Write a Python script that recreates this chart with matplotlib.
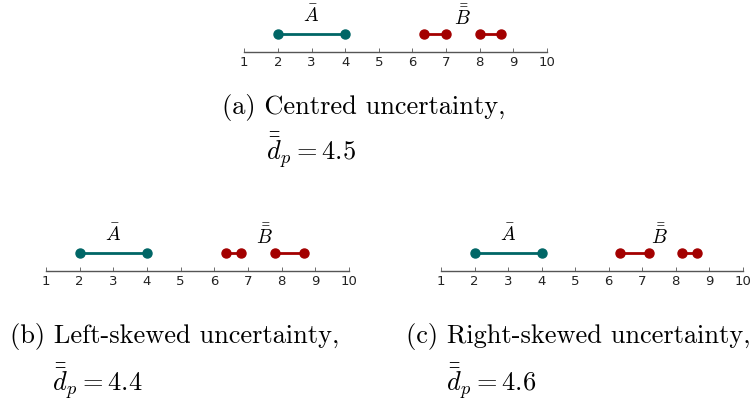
import matplotlib
matplotlib.use("Agg")
import matplotlib.pyplot as plt

plt.rcParams['mathtext.fontset'] = 'cm'

W, H = 751, 406
DPI = 100

ticks = list(range(1, 11))
a_interval = [2.0, 4.0]
b_intervals = {
    'a': [[6.35, 7.0], [8.0, 8.65]],
    'b': [[6.35, 6.8], [7.8, 8.65]],
    'c': [[6.35, 7.2], [8.2, 8.65]],
}
captions = {
    'a': ("(a) Centred uncertainty,", r"$\bar{\bar{d}}_p = 4.5$"),
    'b': ("(b) Left-skewed uncertainty,", r"$\bar{\bar{d}}_p = 4.4$"),
    'c': ("(c) Right-skewed uncertainty,", r"$\bar{\bar{d}}_p = 4.6$"),
}

TEAL = '#006666'
RED = '#a30000'

fig = plt.figure(figsize=(W / DPI, H / DPI), dpi=DPI)

# axes placement in pixels: (x_left, x_right, y_bottom_from_top)
axes_px = {
    'a': (244.3, 546.7, 53),
    'b': (46.0, 349.0, 272),
    'c': (441.0, 742.7, 272),
}
cap_px = {
    'a': ((222.5, 114), (266, 161)),
    'b': ((10.5, 343), (51.5, 392)),
    'c': ((405.5, 343), (445.5, 392)),
}
AX_H = 48

for key in ['a', 'b', 'c']:
    x0, x1, yb = axes_px[key]
    ax = fig.add_axes([x0 / W, (H - yb) / H, (x1 - x0) / W, AX_H / H])
    ax.set_xlim(1, 10)
    ax.set_ylim(0, 1)
    ax.patch.set_visible(False)
    for s in ['top', 'left', 'right']:
        ax.spines[s].set_visible(False)
    ax.spines['bottom'].set_color('#555555')
    ax.spines['bottom'].set_linewidth(1.0)
    ax.set_yticks([])
    ax.set_xticks(ticks)
    ax.set_xticklabels([str(t) for t in ticks])
    ax.tick_params(axis='x', direction='in', length=3, width=0.6, color='#555555',
                   labelsize=9.5, pad=2, labelcolor='#222222')
    ax.plot(a_interval, [0.38, 0.38], '-o', color=TEAL, lw=2, ms=6.5, clip_on=False)
    for seg in b_intervals[key]:
        ax.plot(seg, [0.38, 0.38], '-o', color=RED, lw=2, ms=6.5, clip_on=False)
    ax.text(3.0, 0.64, r'$\bar{A}$', ha='center', va='baseline', fontsize=14)
    ax.text(7.5, 0.59, r'$\bar{\bar{B}}$', ha='center', va='baseline', fontsize=14)

    (lx, ly), (mx, my) = cap_px[key]
    fig.text(lx / W, 1 - ly / H, captions[key][0], family='cmr10', fontsize=19,
             ha='left', va='baseline')
    fig.text(mx / W, 1 - my / H, captions[key][1], fontsize=19,
             ha='left', va='baseline')

fig.savefig('out.png', dpi=DPI)
